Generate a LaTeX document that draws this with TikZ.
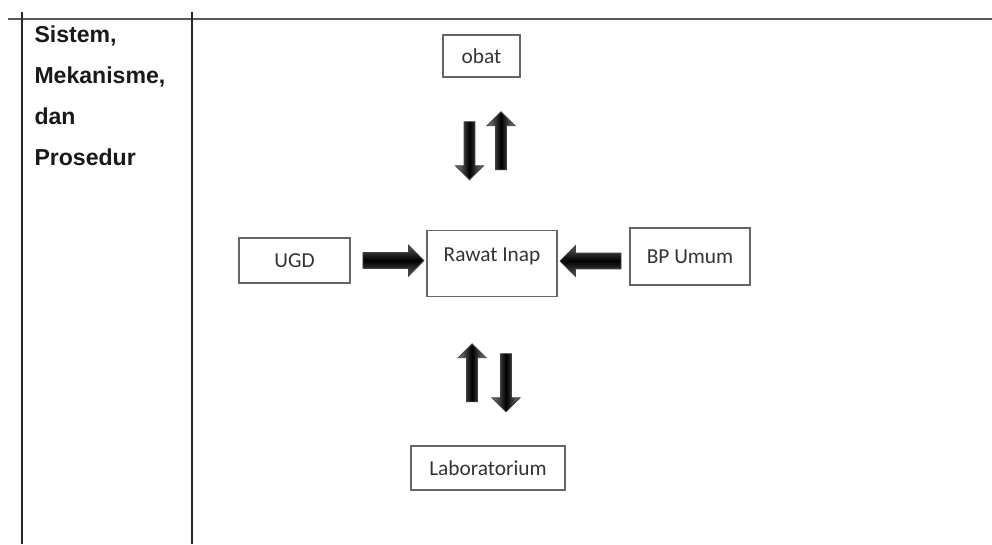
\documentclass[tikz,border=0pt]{standalone}
\usepackage{fontspec}
\setmainfont{Carlito}
\newfontfamily\tabelfont{Liberation Sans}
\usetikzlibrary{shapes.arrows}

\tikzset{every picture/.style={line width=0.75pt}}
\tikzset{
  kotak/.style={draw=black!60, line width=0.8pt, inner sep=0pt, text=black!80, font=\fontsize{16}{19}\selectfont},
  panah/.style={single arrow, draw=black!75, line width=0.6pt, inner xsep=0pt},
  panahdatar/.style={panah, minimum height=45.75pt, inner ysep=5.6pt, single arrow head extend=5.6pt,
    top color=black!65, bottom color=black!65, middle color=black},
  panahtegak/.style={panah, minimum height=43.5pt, inner ysep=3.75pt, single arrow head extend=6.4pt,
    left color=black!50, right color=black!50, middle color=black}
}

\begin{document}
\begin{tikzpicture}[x=0.75pt,y=0.75pt,yscale=-1,xscale=1]
\useasboundingbox (0,0) rectangle (992,544);

%Table lines
\draw [color=black!65, line width=1.1pt] (8,19) -- (992,19) ;
\draw [color=black!85, line width=1.9pt] (22,12) -- (22,544) ;
\draw [color=black!85, line width=1.9pt] (192,12) -- (192,544) ;

% Text Node
\node [anchor=north west, inner sep=0pt, align=left, text=black!90,
  font=\tabelfont\bfseries\fontsize{17.3}{30.75}\selectfont] (judul) at (34,25)
  {Sistem,\\Mekanisme,\\dan\\Prosedur};

%Boxes
\node [kotak, minimum width=57.75pt, minimum height=31.5pt] (obat) at (481.5,56) {obat};
\node [kotak, minimum width=83.25pt, minimum height=33.75pt] (ugd) at (294.5,260.5) {UGD};
\node [kotak, minimum width=97.5pt, text height=23.25pt, text depth=26.25pt, anchor=north] (rawat) at (492,230) {Rawat Inap};
\node [kotak, minimum width=90pt, minimum height=42.75pt] (bp) at (690,256.5) {BP Umum};
\node [kotak, minimum width=115.5pt, minimum height=33pt] (lab) at (488,468) {Laboratorium};

%Block arrows
\node [panahdatar] (ugdrawat) at (389.5,260.5) {};
\node [panahdatar, rotate=180] (bprawat) at (594.5,261) {};
\node [panahtegak, rotate=-90] (obatturun) at (469.5,148) {};
\node [panahtegak, rotate=90] (obatnaik) at (501,143.5) {};
\node [panahtegak, rotate=90] (labnaik) at (472,375.5) {};
\node [panahtegak, rotate=-90] (labturun) at (506,380) {};

\end{tikzpicture}
\end{document}
